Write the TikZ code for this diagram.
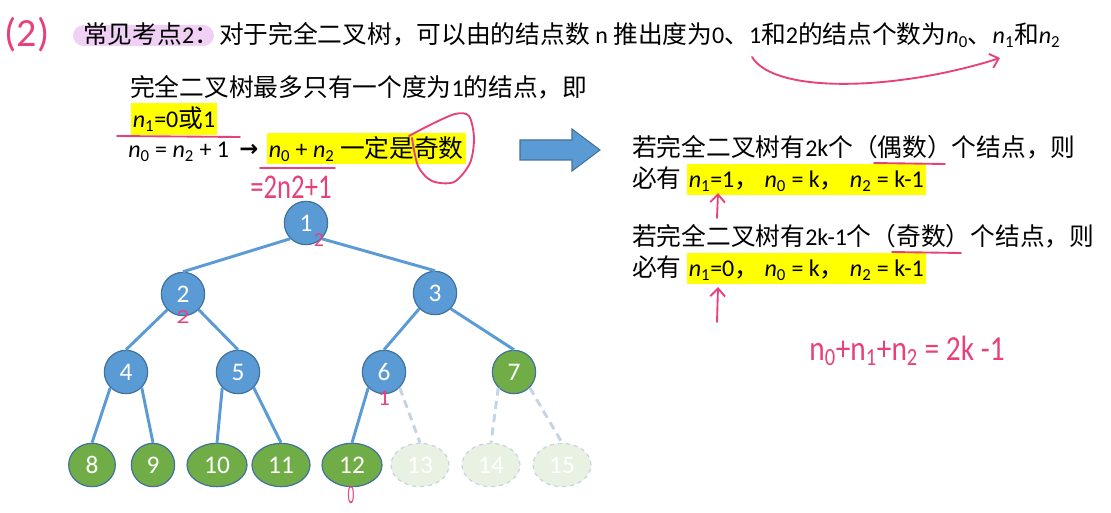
\documentclass[tikz,border=0pt]{standalone}
\usepackage{fontspec}
\setmainfont{Carlito}
\newfontfamily\cjk[Scale=1.03]{Noto Sans CJK SC}
\newfontfamily\symf{DejaVu Sans}
\usetikzlibrary{shapes.geometric,arrows.meta}
\definecolor{nblue}{HTML}{5B9BD5}
\definecolor{nborder}{HTML}{41719C}
\definecolor{ngreen}{HTML}{70AD47}
\definecolor{fade}{HTML}{E9F1E3}
\definecolor{fadeline}{HTML}{C5D4E2}
\definecolor{hl}{HTML}{FFFF00}
\definecolor{pinkink}{HTML}{E6417C}
\definecolor{lilac}{HTML}{F1D0F6}
\newcommand\zh[1]{{\cjk #1}}
\newcommand\nn[1]{{\itshape n}\textsubscript{#1}}
\begin{document}
\begin{tikzpicture}[x=0.75pt,y=-0.75pt,
  txt/.style={anchor=base west, inner sep=0pt, font=\fontsize{18}{22}\selectfont},
  hlbox/.style={txt, fill=hl, inner xsep=1.5pt, text height=18pt, text depth=5.25pt},
  bn/.style={circle, draw=nborder, fill=nblue, line width=0.9pt, minimum size=32.5pt, inner sep=0pt, text=white, font=\fontsize{19}{22}\selectfont},
  gn/.style={ellipse, draw=nborder, fill=ngreen, line width=0.9pt, minimum height=32.5pt, minimum width=#1, inner sep=0pt, text=white, font=\fontsize{19}{22}\selectfont},
  fn/.style={ellipse, draw=fadeline, dashed, fill=fade, line width=0.9pt, minimum height=32.5pt, minimum width=43.5pt, inner sep=0pt, text=white, font=\fontsize{19}{22}\selectfont},
  edge/.style={nblue, line width=2.2pt},
  fedge/.style={fadeline, line width=2.2pt, dash pattern=on 6pt off 4pt},
  hw/.style={text=pinkink, inner sep=0pt},
  ink/.style={pinkink, line width=1.4pt, line cap=round},
  inkarrow/.style={ink, -{Straight Barb[length=6pt,width=11pt]}}
]
\useasboundingbox (0,0) rectangle (1111,513);

% ---------- title ----------
\node[hw, font=\fontsize{30}{32}\selectfont] (lbl) at (27,35) {(2)};
\fill[lilac, rounded corners=8pt] (73,25) rectangle (214,46);
\node[txt] (title) at (83,44) {\zh{常见考点}2\zh{：对于完全二叉树，可以由的结点数} n \zh{推出度为}0\zh{、}1\zh{和}2\zh{的结点个数为}\nn{0}\zh{、}\nn{1}\zh{和}\nn{2}};
\coordinate (ca) at (752,57);
\coordinate (cb) at (1000,58);
\draw[inkarrow] (ca) .. controls (775,95) and (900,90) .. (cb);

% ---------- left block ----------
\node[txt] (l1) at (130,97) {\zh{完全二叉树最多只有一个度为}1\zh{的结点，即}};
\node[hlbox, text height=18.75pt, text depth=5.25pt] (l2) at (130.5,128) {\nn{1}=0\zh{或}1};
\draw[ink] (117,136) -- (240,137);
\node[txt] (l3) at (128,158) {\nn{0} = \nn{2} + 1};
\node[txt, font=\symf\fontsize{17}{20}\selectfont\bfseries] (arr) at (239,157) {→};
\node[hlbox, text height=18.75pt, text depth=4.5pt] (l3b) at (266.5,158) {\nn{0} + \nn{2} \zh{一定是奇数}};
\draw[ink] (260,168) -- (335,168);
\node[hw, font=\fontsize{20}{22}\selectfont, yscale=1.3] (eq) at (291,187) {=2n2+1};
\draw[ink] plot[smooth] coordinates {(409,136) (430,125) (455,114) (469,116) (474,138) (470,163) (454,182) (432,181) (418,166) (412,138)};

% ---------- block arrow ----------
\draw[fill=nblue, draw=nborder, line width=0.8pt] (520,140) -- (572,140) -- (572,129) -- (600,150) -- (572,171) -- (572,160) -- (520,160) -- cycle;

% ---------- right block ----------
\node[txt] (r1) at (632,157) {\zh{若完全二叉树有}2k\zh{个（偶数）个结点，则}};
\node[txt] (r2a) at (632,188) {\zh{必有}};
\node[hlbox] (r2) at (686.5,188) {\nn{1}=1\zh{，}  \nn{0} = k\zh{，}  \nn{2} = k-1};
\node[txt] (r3) at (632,246) {\zh{若完全二叉树有}2k-1\zh{个（奇数）个结点，则}};
\node[txt] (r4a) at (632,277) {\zh{必有}};
\node[hlbox] (r4) at (686.5,277) {\nn{1}=0\zh{，}  \nn{0} = k\zh{，}  \nn{2} = k-1};
\draw[ink] (874,163) -- (945,164);
\draw[ink] (892,252) -- (961,253);
\coordinate (ua1) at (717,218);
\coordinate (ub1) at (718,193);
\coordinate (ua2) at (717,322);
\coordinate (ub2) at (718,287);
\draw[inkarrow] (ua1) -- (ub1);
\draw[inkarrow] (ua2) -- (ub2);
\node[hw, font=\fontsize{22}{24}\selectfont, yscale=1.2] (sum) at (907,351) {n\textsubscript{0}+n\textsubscript{1}+n\textsubscript{2} = 2k -1};

% ---------- tree ----------
\node[bn] (n1) at (306,223) {1};
\node[bn] (n2) at (183,294) {2};
\node[bn] (n3) at (435,293) {3};
\node[bn] (n4) at (126,372) {4};
\node[bn] (n5) at (238,372) {5};
\node[bn] (n6) at (384,372) {6};
\node[circle, draw=nborder, fill=ngreen, line width=0.9pt, minimum size=32.5pt, inner sep=0pt, text=white, font=\fontsize{19}{22}\selectfont] (n7) at (514,372) {7};
\node[gn=35pt] (n8) at (92,465) {8};
\node[gn=32.5pt] (n9) at (153,465) {9};
\node[gn=45pt] (n10) at (217,465) {10};
\node[gn=43.5pt] (n11) at (281,465) {11};
\node[gn=45pt] (n12) at (352,465) {12};
\node[fn] (n13) at (420,465) {13};
\node[fn] (n14) at (491,465) {14};
\node[fn] (n15) at (562,465) {15};

\draw[edge] (n1.south west) -- (n2.north);
\draw[edge] (n1.south east) -- (n3.north);
\draw[edge] (n2.south west) -- (n4.north);
\draw[edge] (n2.south east) -- (n5.north);
\draw[edge] (n3.south west) -- (n6.north);
\draw[edge] (n3.south east) -- (n7.north);
\draw[edge] (n4.south west) -- (n8.north);
\draw[edge] (n4.south east) -- (n9.north);
\draw[edge] (n5.south west) -- (n10.north);
\draw[edge] (n5.south east) -- (n11.north);
\draw[edge] (n6.south west) -- (n12.north);
\draw[fedge] (n6.south east) -- (n13.north);
\draw[fedge] (n7.south west) -- (n14.north);
\draw[fedge] (n7.south east) -- (n15.north);

% handwritten degree marks
\node[hw, font=\fontsize{15}{16}\selectfont] (d1) at (319,240) {2};
\node[hw, font=\fontsize{15}{16}\selectfont, xscale=1.3] (d2) at (183,317) {2};
\node[hw, font=\fontsize{17}{18}\selectfont] (d6) at (384,398) {1};
\node[hw, font=\fontsize{20}{22}\selectfont, xscale=0.5] (d12) at (351,495) {0};
\end{tikzpicture}
\end{document}
